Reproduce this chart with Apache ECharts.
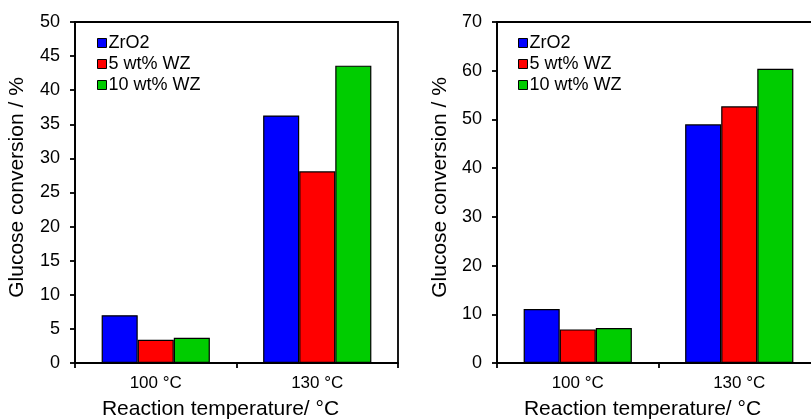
<!DOCTYPE html>
<html>
<head>
<meta charset="utf-8">
<script src="https://cdn.jsdelivr.net/npm/echarts@6/dist/echarts.min.js"></script>
<style>
  html, body { margin: 0; padding: 0; background: #fff; }
  #chart { width: 811px; height: 419px; }
</style>
</head>
<body>
<div id="chart"></div>
<script>
// Reaction temperatures on the category axis
const categories = ['100 °C', '130 °C'];
const seriesNames = ['ZrO2', '5 wt% WZ', '10 wt% WZ'];
const seriesColors = ['#0000ff', '#ff0000', '#00cc00'];

// Left panel: glucose conversion (%)
const leftZrO2 = [7.0, 36.3];
const leftWZ5 = [3.4, 28.1];
const leftWZ10 = [3.7, 43.6];

// Right panel: glucose conversion (%)
const rightZrO2 = [11.1, 49.0];
const rightWZ5 = [6.9, 52.7];
const rightWZ10 = [7.2, 60.4];

const FONT = '"Liberation Sans", Arial, sans-serif';
const INK = '#000';
const LINE_W = 1.8;

const chart = echarts.init(document.getElementById('chart'), null, { renderer: 'canvas' });

function xAxisFor(gridIndex) {
  return {
    type: 'category',
    gridIndex,
    data: categories,
    boundaryGap: true,
    name: 'Reaction temperature/ °C',
    nameLocation: 'middle',
    nameGap: 36,
    nameTextStyle: { fontFamily: FONT, fontSize: 21, color: INK, padding: [0, 32, 0, 0] },
    axisLine: { show: true, lineStyle: { color: INK, width: LINE_W } },
    axisTick: { show: true, inside: false, length: 5, alignWithLabel: false, lineStyle: { color: INK, width: LINE_W } },
    axisLabel: { fontFamily: FONT, fontSize: 17, color: INK, margin: 12 },
    splitLine: { show: false }
  };
}

function yAxisFor(gridIndex, max, interval, gap, labelMargin) {
  return {
    type: 'value',
    gridIndex,
    min: 0,
    max,
    interval,
    name: 'Glucose conversion / %',
    nameLocation: 'middle',
    nameGap: gap,
    nameTextStyle: { fontFamily: FONT, fontSize: 21, color: INK, padding: [0, 0, 0, 10] },
    axisLine: { show: true, lineStyle: { color: INK, width: LINE_W } },
    axisTick: { show: true, inside: false, length: 5, lineStyle: { color: INK, width: LINE_W } },
    axisLabel: { fontFamily: FONT, fontSize: 18, color: INK, margin: labelMargin },
    splitLine: { show: false }
  };
}

function barSeries(name, color, data, idx) {
  return {
    name,
    type: 'bar',
    xAxisIndex: idx,
    yAxisIndex: idx,
    data,
    barGap: '0%',
    barCategoryGap: '33%',
    itemStyle: { color, borderColor: INK, borderWidth: 1.2 },
    emphasis: { disabled: true },
    animation: false
  };
}

function legendFor(left) {
  return {
    orient: 'vertical',
    left,
    top: 34,
    padding: 0,
    itemWidth: 9,
    itemHeight: 9,
    itemGap: 3,
    icon: 'rect',
    data: seriesNames,
    itemStyle: { borderColor: INK, borderWidth: 1 },
    textStyle: { fontFamily: FONT, fontSize: 18, color: INK, lineHeight: 18, padding: [0, 0, 0, -3] }
  };
}

function gridAt(left, right) {
  return {
    left, top: 22, right, bottom: 56,
    containLabel: false,
    outerBoundsMode: 'none',
    show: true, borderColor: INK, borderWidth: LINE_W, backgroundColor: 'transparent'
  };
}

const option = {
  backgroundColor: '#fff',
  animation: false,
  color: seriesColors,
  legend: [legendFor(97), legendFor(518)],
  grid: [gridAt(75, 413), gridAt(497, -9)],
  xAxis: [xAxisFor(0), xAxisFor(1)],
  yAxis: [yAxisFor(0, 50, 5, 47, 15), yAxisFor(1, 70, 10, 46, 15)],
  series: [
    barSeries(seriesNames[0], seriesColors[0], leftZrO2, 0),
    barSeries(seriesNames[1], seriesColors[1], leftWZ5, 0),
    barSeries(seriesNames[2], seriesColors[2], leftWZ10, 0),
    barSeries(seriesNames[0], seriesColors[0], rightZrO2, 1),
    barSeries(seriesNames[1], seriesColors[1], rightWZ5, 1),
    barSeries(seriesNames[2], seriesColors[2], rightWZ10, 1)
  ]
};

chart.setOption(option);
</script>
</body>
</html>
